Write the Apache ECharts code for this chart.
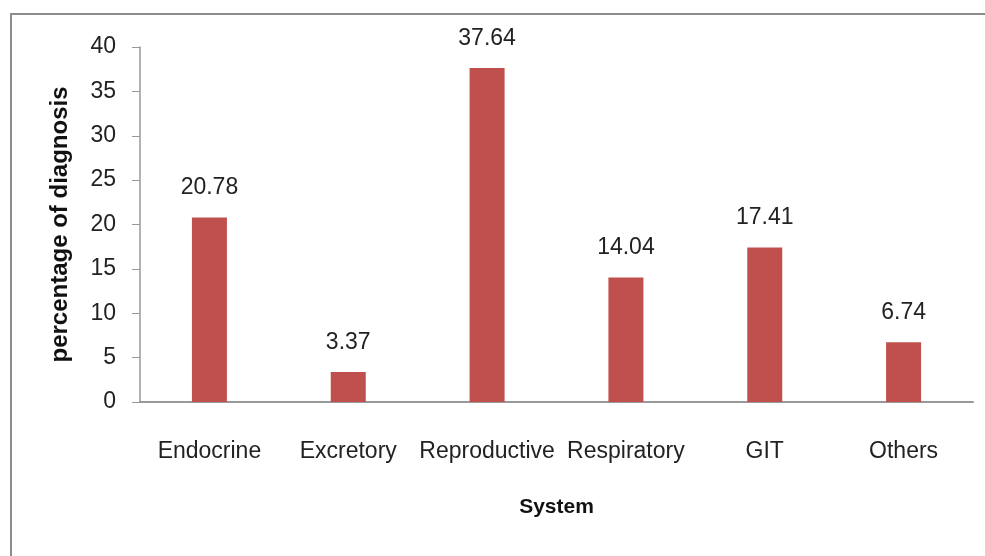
<!DOCTYPE html>
<html>
<head>
<meta charset="utf-8">
<script src="https://cdn.jsdelivr.net/npm/echarts@6/dist/echarts.min.js"></script>
<style>
  html, body { margin: 0; padding: 0; background: #fff; }
  #frame {
    position: absolute; left: 10px; top: 13px; width: 1000px; height: 600px;
    border-left: 2px solid #8c8c8c; border-top: 2px solid #8c8c8c;
  }
  #chart { position: absolute; left: 0; top: 0; width: 985px; height: 556px; }
</style>
</head>
<body>
<div id="frame"></div>
<div id="chart"></div>
<script>
// 数据
const systems = ["Endocrine", "Excretory", "Reproductive", "Respiratory", "GIT", "Others"];
const percentages = [20.78, 3.37, 37.64, 14.04, 17.41, 6.74];

const chart = echarts.init(document.getElementById("chart"));
const font = "'Liberation Sans', Arial, sans-serif";

chart.setOption({
  animation: false,
  grid: { left: 140, right: 12, top: 47, bottom: 154, containLabel: false },
  xAxis: {
    type: "category",
    data: systems,
    name: "System",
    nameLocation: "middle",
    nameGap: 95,
    nameTextStyle: { fontFamily: font, fontSize: 21, fontWeight: "bold", color: "#111" },
    axisLine: { lineStyle: { color: "#999", width: 2 } },
    axisTick: { show: false },
    axisLabel: { fontFamily: font, fontSize: 23, color: "#222", margin: 38, interval: 0 },
  },
  yAxis: {
    type: "value",
    min: 0,
    max: 40,
    interval: 5,
    name: "percentage of diagnosis",
    nameLocation: "middle",
    nameGap: 68,
    nameTextStyle: { fontFamily: font, fontSize: 24, fontWeight: "bold", color: "#111" },
    axisLine: { show: true, lineStyle: { color: "#999", width: 1.5 } },
    axisTick: { show: true, length: 8, lineStyle: { color: "#999" } },
    axisLabel: { fontFamily: font, fontSize: 23, color: "#222", margin: 24 },
    splitLine: { show: false },
  },
  series: [
    {
      type: "bar",
      data: percentages,
      barWidth: 35,
      itemStyle: { color: "#C0504D" },
      label: {
        show: true,
        position: "top",
        distance: 18,
        fontFamily: font,
        fontSize: 23,
        color: "#222",
      },
    },
  ],
});
</script>
</body>
</html>
